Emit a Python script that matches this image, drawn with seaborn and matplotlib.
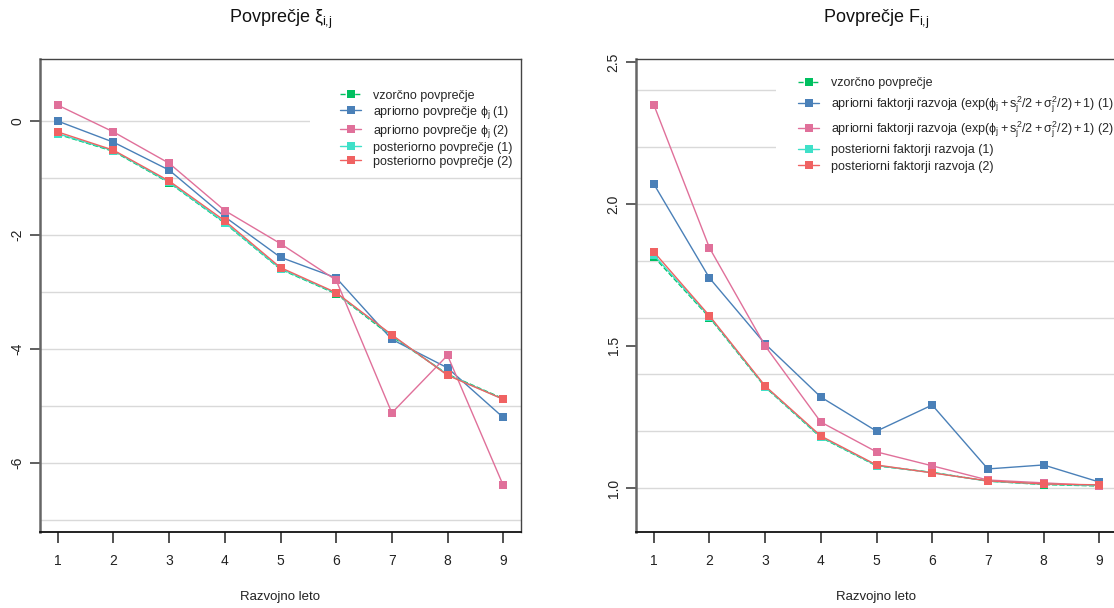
import matplotlib
matplotlib.use("Agg")
import matplotlib.pyplot as plt
from matplotlib.patches import Rectangle
from matplotlib.ticker import FixedLocator
import numpy as np
import pandas as pd
import seaborn as sns

sns.set_style("white")
plt.rcParams["font.family"] = ["Liberation Sans", "DejaVu Sans"]
plt.rcParams["mathtext.fontset"] = "custom"
plt.rcParams["mathtext.rm"] = "Liberation Sans"
plt.rcParams["mathtext.it"] = "Liberation Sans"
plt.rcParams["mathtext.bf"] = "Liberation Sans:bold"

# razvojna leta
leto = [1, 2, 3, 4, 5, 6, 7, 8, 9]

# povprecje xi_{i,j}
xi_vzorec = [-0.23, -0.53, -1.08, -1.79, -2.60, -3.03, -3.78, -4.44, -4.87]
xi_apriori1 = [0.00, -0.37, -0.86, -1.68, -2.39, -2.75, -3.83, -4.33, -5.20]
xi_apriori2 = [0.28, -0.19, -0.74, -1.57, -2.15, -2.79, -5.12, -4.11, -6.39]
xi_post1 = [-0.22, -0.52, -1.07, -1.78, -2.59, -3.02, -3.76, -4.45, -4.88]
xi_post2 = [-0.19, -0.51, -1.05, -1.75, -2.57, -3.01, -3.75, -4.46, -4.88]

# povprecje F_{i,j}
F_vzorec = [1.814, 1.600, 1.355, 1.178, 1.078, 1.055, 1.024, 1.012, 1.007]
F_apriori1 = [2.070, 1.739, 1.507, 1.320, 1.200, 1.292, 1.067, 1.081, 1.021]
F_apriori2 = [2.349, 1.845, 1.500, 1.232, 1.127, 1.078, 1.028, 1.018, 1.008]
F_post1 = [1.820, 1.603, 1.357, 1.180, 1.079, 1.054, 1.024, 1.013, 1.009]
F_post2 = [1.831, 1.606, 1.359, 1.183, 1.081, 1.053, 1.025, 1.014, 1.011]

xi_labels = [
    "vzorčno povprečje",
    r"apriorno povprečje $\phi_j$ (1)",
    r"apriorno povprečje $\phi_j$ (2)",
    "posteriorno povprečje (1)",
    "posteriorno povprečje (2)",
]
F_labels = [
    "vzorčno povprečje",
    r"apriorni faktorji razvoja $(\exp(\phi_j + s_j^2/2 + \sigma_j^2/2) + 1)$ (1)",
    r"apriorni faktorji razvoja $(\exp(\phi_j + s_j^2/2 + \sigma_j^2/2) + 1)$ (2)",
    "posteriorni faktorji razvoja (1)",
    "posteriorni faktorji razvoja (2)",
]

COLORS = ["#00C060", "#4A80B8", "#E0709A", "#3FE0C8", "#F06262"]
STYLES = ["--", "-", "-", "-", "-"]


def draw_panel(ax, series, labels, title, ylim, ticks, grid, legend_pos,
               spacing, legend_bg):
    for vals, lab, col, ls in zip(series, labels, COLORS, STYLES):
        df = pd.DataFrame({"leto": leto, "vrednost": vals})
        sns.lineplot(data=df, x="leto", y="vrednost", ax=ax, color=col,
                     linestyle=ls, linewidth=1.0, marker="s", markersize=5.8,
                     markeredgewidth=0, label=lab)
    ax.set_xlim(0.68, 9.32)
    ax.set_ylim(*ylim)
    ax.set_xticks(leto)
    ax.set_yticks(ticks)
    ax.yaxis.set_minor_locator(FixedLocator(grid))
    ax.yaxis.remove_overlapping_locs = False
    ax.grid(False)
    ax.grid(axis="y", which="minor", color="#D9D9D9", linewidth=1.0)
    ax.set_axisbelow(True)
    ax.tick_params(left=True, bottom=True)
    ax.tick_params(axis="y", which="minor", length=0)
    ax.tick_params(axis="y", which="major", length=7, width=1.2, color="#444444",
                   labelsize=10, labelrotation=90, pad=4, labelcolor="#222222")
    ax.tick_params(axis="x", which="major", length=8, width=1.2, color="#333333",
                   labelsize=10, pad=8, labelcolor="#222222")
    for t in ax.get_yticklabels():
        t.set_verticalalignment("center")
    ax.set_xlabel("")
    ax.set_ylabel("")
    ax.spines["left"].set_color("#666666")
    ax.spines["left"].set_linewidth(1.8)
    ax.spines["bottom"].set_color("#111111")
    ax.spines["bottom"].set_linewidth(1.3)
    for s in ["top", "right"]:
        ax.spines[s].set_color("#444444")
        ax.spines[s].set_linewidth(1.0)

    # white legend background (covers the grid lines like in R)
    x0, y0, x1, y1 = legend_bg
    ax.add_patch(Rectangle((x0, y0), x1 - x0, y1 - y0, transform=ax.transAxes,
                           facecolor="white", edgecolor="none", zorder=1))
    ax.legend(loc="upper left", bbox_to_anchor=legend_pos, fontsize=9,
              frameon=False, handlelength=1.7, handletextpad=0.95,
              labelspacing=spacing, borderpad=0, borderaxespad=0)

    ax.text(0.5, 1.0846, title, transform=ax.transAxes, ha="center",
            va="center", fontsize=13, color="#111111")
    ax.text(0.5, -0.137, "Razvojno leto", transform=ax.transAxes, ha="center",
            va="center", fontsize=9.5, color="#222222")


fig = plt.figure(figsize=(11.14, 6.08), dpi=100)
W, H = 1114, 608
ax1 = fig.add_axes([40 / W, (H - 532) / H, 481 / W, 473 / H])
ax2 = fig.add_axes([636 / W, (H - 532) / H, 481 / W, 473 / H])

draw_panel(ax1, [xi_vzorec, xi_apriori1, xi_apriori2, xi_post1, xi_post2],
           xi_labels, r"Povprečje $\xi_{i,\!j}$", (-7.21, 1.09), [0, -2, -4, -6],
           [0, -1, -2, -3, -4, -5, -6, -7], (0.624, 0.935), 0.16,
           (0.561, 0.770, 1.0, 0.977))
ax1.set_yticklabels(["0", "-2", "-4", "-6"])

draw_panel(ax2, [F_vzorec, F_apriori1, F_apriori2, F_post1, F_post2],
           F_labels, r"Povprečje $F_{i,\!j}$", (0.845, 2.51), [1.0, 1.5, 2.0, 2.5],
           [1.0, 1.2, 1.4, 1.6, 1.8, 2.0, 2.2, 2.4], (0.337, 0.961), 0.36,
           (0.291, 0.744, 1.0, 0.994))
ax2.set_yticklabels(["1.0", "1.5", "2.0", "2.5"])

fig.savefig("out.png", dpi=100)
